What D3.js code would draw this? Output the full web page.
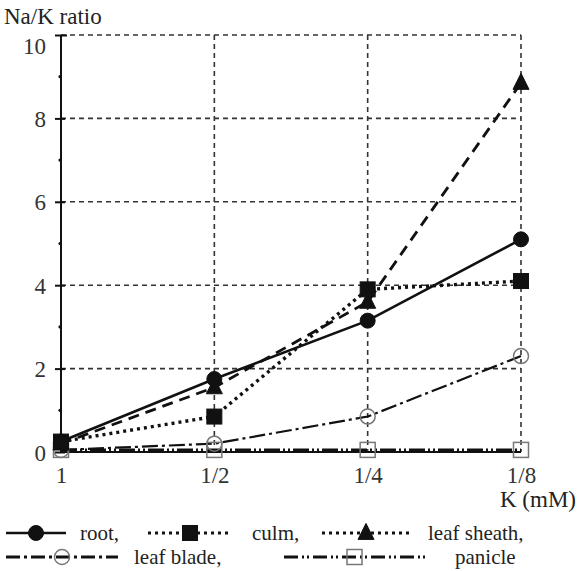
<!DOCTYPE html>
<html lang="en">
<head>
    <meta charset="utf-8">
    <title>Na/K ratio</title>
    <script src="https://d3js.org/d3.v7.min.js"></script>
    <style>
        body { margin: 0; background: #fff; }
        svg text { font-family: 'Liberation Serif', 'DejaVu Serif', serif; }
    </style>
</head>
<body>
<script>
    // data
    const kLevels = ['1', '1/2', '1/4', '1/8']
    const yTicks = [0, 2, 4, 6, 8, 10]
    const root = [0.25, 1.75, 3.15, 5.1]
    const culm = [0.25, 0.85, 3.9, 4.1]
    const leafSheath = [0.2, 1.55, 3.6, 8.85]
    const leafBlade = [0.05, 0.2, 0.85, 2.3]
    const panicle = [0.05, 0.05, 0.05, 0.05]

    const series = [
        { name: 'root,', values: root, dash: null, width: 2.6, marker: 'circle', fill: '#111', stroke: '#111' },
        { name: 'culm,', values: culm, dash: '3,4', width: 3.4, marker: 'square', fill: '#111', stroke: '#111' },
        { name: 'leaf sheath,', values: leafSheath, dash: '11,7', width: 2.8, marker: 'triangle', fill: '#111', stroke: '#111' },
        { name: 'leaf blade,', values: leafBlade, dash: '16,4,3,4', width: 2.2, marker: 'circle', fill: 'none', stroke: '#777', open: true },
        { name: 'panicle', values: panicle, dash: '16,3,2,3,2,3', width: 2.6, marker: 'square', fill: 'none', stroke: '#777', open: true }
    ]

    const m = { width: 577, height: 571 }

    const svg = d3.select('body').append('svg')
        .attr('width', m.width)
        .attr('height', m.height)
        .attr('font-family', 'Liberation Serif')

    const x = d3.scalePoint().domain(kLevels).range([61, 521])
    const y = d3.scaleLinear().domain([0, 10]).range([452, 35])

    // dashed grid
    const grid = svg.append('g')
        .attr('stroke', '#333')
        .attr('stroke-width', 1.6)
        .attr('stroke-dasharray', '5,4')
    grid.selectAll('.hg')
        .data(yTicks.filter(d => d > 0))
        .enter().append('line')
        .attr('x1', x('1')).attr('x2', x('1/8'))
        .attr('y1', d => y(d)).attr('y2', d => y(d))
    grid.selectAll('.vg')
        .data(kLevels.slice(1))
        .enter().append('line')
        .attr('x1', d => x(d)).attr('x2', d => x(d))
        .attr('y1', y(10)).attr('y2', y(0))

    // axes
    const yAxis = d3.axisLeft(y).tickValues(yTicks).tickSize(6).tickPadding(9)
    svg.append('g')
        .attr('transform', `translate(${x('1')},0)`)
        .call(yAxis)
        .attr('font-family', 'Liberation Serif')
        .attr('font-size', 23)
        .call(g => g.select('.domain').attr('stroke', '#111').attr('stroke-width', 2).attr('d', `M0,${y(10)}V${y(0)}`))
        .call(g => g.selectAll('.tick line').attr('stroke', '#111').attr('stroke-width', 2).attr('x2', -6).attr('x1', 4))
        .call(g => g.selectAll('.tick text').attr('fill', '#333').attr('dy', '0.35em'))
        .call(g => g.selectAll('.tick').filter(d => d === 10).select('text').attr('dy', '0.8em'))
        .call(g => g.selectAll('.tick').filter(d => d === 10).select('line').attr('x1', 6))

    // minor ticks
    svg.append('g').selectAll('circle')
        .data([1, 3, 5, 7, 9])
        .enter().append('circle')
        .attr('cx', x('1') - 1).attr('cy', d => y(d)).attr('r', 1.6).attr('fill', '#111')

    svg.append('line')
        .attr('x1', x('1')).attr('x2', x('1/8'))
        .attr('y1', y(0)).attr('y2', y(0))
        .attr('stroke', '#111').attr('stroke-width', 2)

    const xAxis = d3.axisBottom(x).tickSize(0).tickPadding(15)
    svg.append('g')
        .attr('transform', `translate(0,${y(0)})`)
        .call(xAxis)
        .attr('font-family', 'Liberation Serif')
        .attr('font-size', 23)
        .call(g => g.select('.domain').remove())
        .call(g => g.selectAll('.tick text').attr('fill', '#333'))

    svg.append('text').attr('x', 4).attr('y', 24).attr('font-size', 23).attr('fill', '#222').text('Na/K ratio')
    svg.append('text').attr('x', 576).attr('y', 507).attr('text-anchor', 'end').attr('font-size', 23).attr('fill', '#222').text('K (mM)')

    // markers
    function drawMarker(g, s, cx, cy, size) {
        if (s.marker === 'circle') {
            g.append('circle').attr('cx', cx).attr('cy', cy).attr('r', size)
                .attr('fill', s.open ? '#fff' : s.fill).attr('fill-opacity', s.open ? 0 : 1)
                .attr('stroke', s.stroke).attr('stroke-width', s.open ? 1.5 : 1)
        } else if (s.marker === 'square') {
            g.append('rect').attr('x', cx - size).attr('y', cy - size)
                .attr('width', size * 2).attr('height', size * 2)
                .attr('fill', s.open ? 'none' : s.fill)
                .attr('stroke', s.stroke).attr('stroke-width', s.open ? 1.5 : 1)
        } else {
            const h = size * 2
            g.append('path')
                .attr('d', `M${cx},${cy - h * 0.6}L${cx + size},${cy + h * 0.4}L${cx - size},${cy + h * 0.4}Z`)
                .attr('fill', s.fill).attr('stroke', s.stroke)
        }
    }

    const line = d3.line()
        .x((d, i) => x(kLevels[i]))
        .y(d => y(d))

    const plot = svg.append('g')
    series.slice().reverse().forEach(s => {
        plot.append('path')
            .datum(s.values)
            .attr('d', line)
            .attr('fill', 'none')
            .attr('stroke', '#111')
            .attr('stroke-width', s.width)
            .attr('stroke-dasharray', s.dash)
    })
    series.slice().reverse().forEach(s => {
        s.values.forEach((v, i) => drawMarker(plot, s, x(kLevels[i]), y(v), s.marker === 'triangle' ? 8 : 7.5))
    })

    // legend
    const legendRows = [
        [{ s: 0, x0: 6, x1: 66, tx: 80 }, { s: 1, x0: 148, x1: 232, tx: 252 }, { s: 2, x0: 322, x1: 410, tx: 428 }],
        [{ s: 3, x0: 6, x1: 118, tx: 134 }, { s: 4, x0: 284, x1: 425, tx: 455 }]
    ]
    const legendY = [533, 557]
    const legend = svg.append('g')
    legendRows.forEach((row, r) => {
        row.forEach(item => {
            const s = series[item.s]
            const ly = legendY[r]
            let dash = s.dash
            if (item.s === 2) dash = '3,4'
            legend.append('line')
                .attr('x1', item.x0).attr('x2', item.x1)
                .attr('y1', ly).attr('y2', ly)
                .attr('stroke', '#111').attr('stroke-width', item.s === 0 ? 2.6 : 2.8)
                .attr('stroke-dasharray', item.s === 3 ? '14,4,3,4' : item.s === 4 ? '14,4,2,3,2,4' : dash)
            drawMarker(legend, s, (item.x0 + item.x1) / 2, ly, item.s === 2 ? 8 : 7.5)
            legend.append('text').attr('x', item.tx).attr('y', ly).attr('dy', '0.35em')
                .attr('font-size', 21).attr('fill', '#222').text(s.name)
        })
    })
</script>
</body>
</html>
